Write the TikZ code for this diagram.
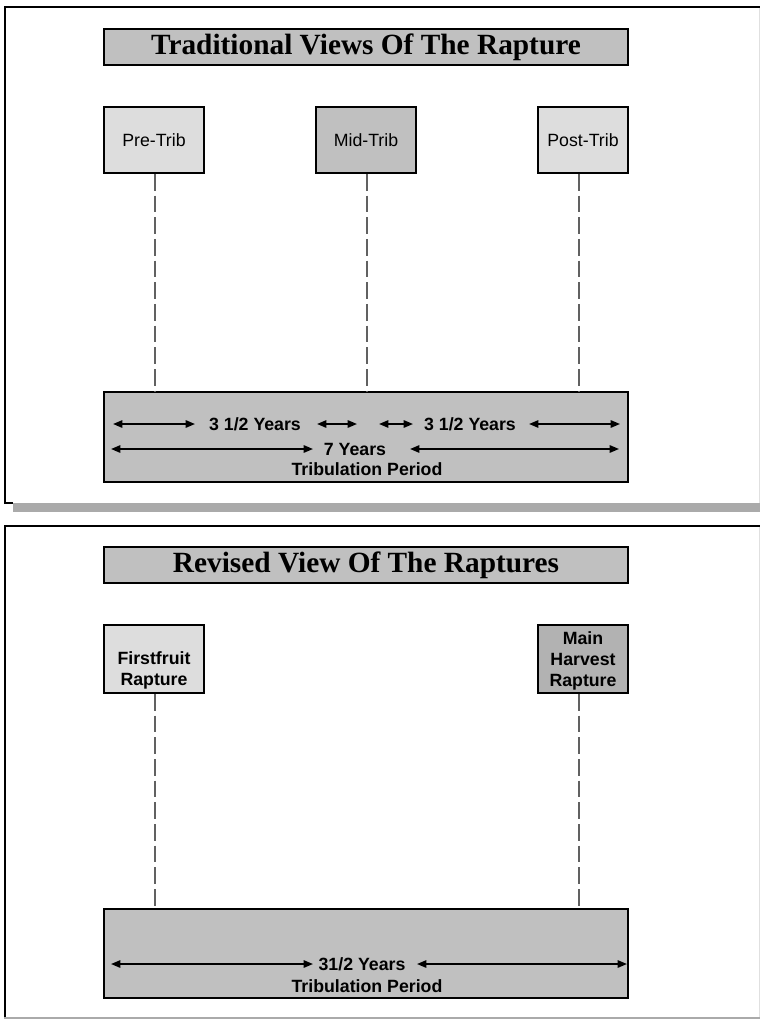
\documentclass[tikz,border=0pt]{standalone}
\usepackage{fontspec}
\setmainfont{Liberation Serif}
\setsansfont{Liberation Sans}
\usetikzlibrary{
  arrows.meta,
  calc
}
\definecolor{silver}{HTML}{C0C0C0}
\definecolor{pale}{HTML}{DDDDDD}
\definecolor{darkish}{HTML}{B2B2B2}
\definecolor{shadow}{HTML}{AAAAAA}
\tikzset{
  % For the heading bars.
  heading/.style={
    draw,
    line width=1.5pt,
    fill=silver,
    minimum width=393pt,
    minimum height=27pt,
    inner sep=0pt,
    font=\fontsize{22}{26}\selectfont\bfseries},
%
  % For the rapture boxes.
  view box/.style={
    draw,
    line width=1.5pt,
    minimum width=75pt,
    minimum height=49.5pt,
    inner sep=1pt,
    align=center,
    font=\sffamily\fontsize{13.3}{16}\selectfont},
%
  % For the tribulation bars.
  period box/.style={
    draw,
    line width=1.5pt,
    fill=silver,
    minimum width=393pt,
    inner sep=0pt},
%
  % For texts inside the tribulation bars.
  span label/.style={
    inner sep=0pt,
    text height=9.6pt,
    text depth=0pt,
    font=\sffamily\bfseries\fontsize{13.3}{16}\selectfont},
%
  % For the time spans.
  timespan/.style={
    {Triangle[length=7pt,width=5.5pt]}-{Triangle[length=7pt,width=5.5pt]},
    line width=1.3pt},
%
  % For the drop lines.
  drop line/.style={
    draw=black!62,
    line width=0.8pt,
    dash pattern=on 12.5pt off 3.75pt},
}

\begin{document}
\begin{tikzpicture}[x=0.75pt, y=-0.75pt]
  \useasboundingbox (0,0) rectangle (760,1019);

  % Upper frame, with its shadow at the bottom.
  \draw[line width=1.5pt] (13,503) -- (4.5,503) -- (4.5,7) -- (760,7);
  \draw[black!12] (759.5,8) -- (759.5,503);
  \fill[shadow] (13,503) rectangle (760,512);

  \node[heading] (title1) at (366,47) {Traditional Views Of The Rapture};

  \node[view box, fill=pale] (pre) at (154,140) {Pre-Trib};
  \node[view box, fill=silver] (mid) at (366,140) {Mid-Trib};
  \node[view box, fill=pale, minimum width=67.5pt] (post) at (583,140) {Post-Trib};

  \node[period box, minimum height=67.5pt] (trib1) at (366,437) {};

  \coordinate (prefoot) at ([xshift=0.75pt]pre.south);
  \coordinate (midfoot) at ([xshift=0.75pt]mid.south);
  \coordinate (postfoot) at ([xshift=-3pt]post.south);

  \draw[drop line] (prefoot) -- (prefoot |- trib1.north);
  \draw[drop line] (midfoot) -- (midfoot |- trib1.north);
  \draw[drop line] (postfoot) -- (postfoot |- trib1.north);

  \node[span label] (half1) at (255,424) {3 1/2 Years};
  \node[span label] (half2) at (470,424) {3 1/2 Years};
  \node[span label] (whole) at (355,449) {7 Years};
  \node[span label] (period1) at (367,469) {Tribulation Period};

  \coordinate (a1) at (113,424);
  \coordinate (a2) at (195,424);
  \coordinate (b1) at (317,424);
  \coordinate (b2) at (357,424);
  \coordinate (c1) at (379,424);
  \coordinate (c2) at (413,424);
  \coordinate (d1) at (529,424);
  \coordinate (d2) at (620,424);
  \coordinate (e1) at (111,449);
  \coordinate (e2) at (313,449);
  \coordinate (f1) at (410,449);
  \coordinate (f2) at (619,449);

  \draw[timespan] (a1) -- (a2);
  \draw[timespan] (b1) -- (b2);
  \draw[timespan] (c1) -- (c2);
  \draw[timespan] (d1) -- (d2);
  \draw[timespan] (e1) -- (e2);
  \draw[timespan] (f1) -- (f2);

  % Lower frame.
  \draw[line width=1.5pt] (4.5,1018) -- (4.5,526) -- (760,526);
  \draw[black!12] (759.5,527) -- (759.5,1018);
  \draw[shadow, line width=1.2pt] (4,1018) -- (760,1018);

  \node[heading] (title2) at (366,565) {Revised View Of The Raptures};

  \node[view box, fill=pale, font=\sffamily\bfseries\fontsize{13.3}{16}\selectfont,
        minimum height=51pt] (first) at (154,659) {\strut\\Firstfruit\\Rapture};
  \node[view box, fill=darkish, font=\sffamily\bfseries\fontsize{13.3}{16}\selectfont,
        minimum width=68pt, minimum height=51pt] (main) at (583,659) {\rule{0pt}{12.5pt}Main\\Harvest\\Rapture};

  \node[period box, minimum height=66.75pt] (trib2) at (366,953.5) {};

  \coordinate (firstfoot) at ([xshift=0.75pt]first.south);
  \coordinate (mainfoot) at ([xshift=-3pt]main.south);

  \draw[drop line] (firstfoot) -- (firstfoot |- trib2.north);
  \draw[drop line] (mainfoot) -- (mainfoot |- trib2.north);

  \node[span label] (half3) at (362,964) {31/2 Years};
  \node[span label] (period2) at (367,986) {Tribulation Period};

  \coordinate (g1) at (111,964);
  \coordinate (g2) at (313,964);
  \coordinate (h1) at (417,964);
  \coordinate (h2) at (627,964);

  \draw[timespan] (g1) -- (g2);
  \draw[timespan] (h1) -- (h2);
\end{tikzpicture}
\end{document}
